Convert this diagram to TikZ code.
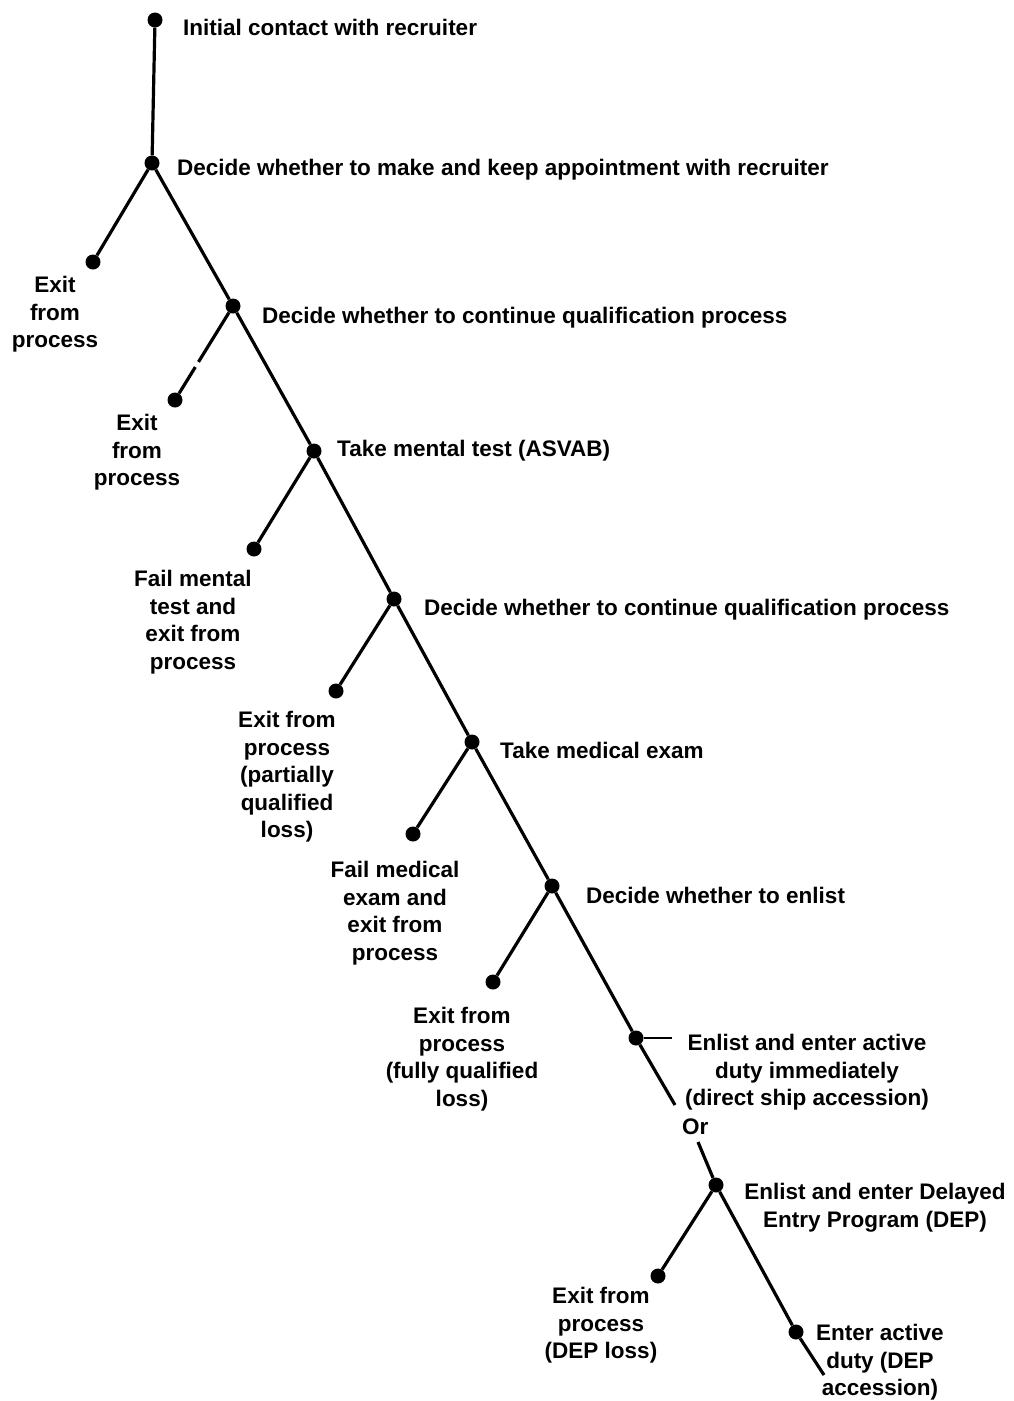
\documentclass[tikz,border=0pt]{standalone}
\usepackage{fontspec}
\setmainfont{Liberation Sans}
\begin{document}
\begin{tikzpicture}[x=1pt,y=-1pt,
  dot/.style={circle,fill=black,minimum size=15pt,inner sep=0pt},
  branch/.style={line width=3.2pt},
  rlabel/.style={anchor=west,inner sep=0pt,font=\bfseries\fontsize{22.5}{27.5}\selectfont},
  clabel/.style={anchor=north,inner sep=0pt,align=center,font=\bfseries\fontsize{22.5}{27.5}\selectfont}]
\useasboundingbox (0,0) rectangle (1013,1401);
% decision / event points
\node[dot] (A) at (155,20) {};
\node[dot] (B) at (152,163) {};
\node[dot] (E1) at (93,262) {};
\node[dot] (C) at (233,306) {};
\node[dot] (E2) at (175,400) {};
\node[dot] (D) at (314,451) {};
\node[dot] (E3) at (254,549) {};
\node[dot] (F) at (394,599) {};
\node[dot] (E4) at (336,691) {};
\node[dot] (G) at (472,742) {};
\node[dot] (E5) at (413,834) {};
\node[dot] (H) at (552,886) {};
\node[dot] (E6) at (493,982) {};
\node[dot] (I) at (636,1038) {};
\node[dot] (J) at (716,1185) {};
\node[dot] (E7) at (658,1276) {};
\node[dot] (K) at (796,1332) {};
\coordinate (Istub) at (672,1038);
\coordinate (Iend) at (675,1105);
\coordinate (Jstart) at (698,1142);
\coordinate (Kend) at (824,1375);
% connectors
\draw[branch] (A) -- (B);
\draw[branch] (B) -- (E1);
\draw[branch] (B) -- (C);
\draw[branch,dash pattern=on 58pt off 6pt on 100pt] (C) -- (E2);
\draw[branch] (C) -- (D);
\draw[branch] (D) -- (E3);
\draw[branch] (D) -- (F);
\draw[branch] (F) -- (E4);
\draw[branch] (F) -- (G);
\draw[branch] (G) -- (E5);
\draw[branch] (G) -- (H);
\draw[branch] (H) -- (E6);
\draw[branch] (H) -- (I);
\draw[line width=2pt] (I) -- (Istub);
\draw[branch] (I) -- (Iend);
\draw[branch] (Jstart) -- (J);
\draw[branch] (J) -- (E7);
\draw[branch] (J) -- (K);
\draw[branch] (K) -- (Kend);
% labels
\node[rlabel] (tA) at (183,27) {Initial contact with recruiter};
\node[rlabel] (tB) at (177,170) {Decide whether to make and keep appointment with recruiter};
\node[clabel] (tE1) at (55,276) {Exit\\from\\process};
\node[rlabel] (tC) at (262,318) {Decide whether to continue qualification process};
\node[clabel] (tE2) at (137,414) {Exit\\from\\process};
\node[rlabel] (tD) at (337,451) {Take mental test (ASVAB)};
\node[clabel] (tE3) at (193,570) {Fail mental\\test and\\exit from\\process};
\node[rlabel] (tF) at (424,610) {Decide whether to continue qualification process};
\node[clabel] (tE4) at (287,711) {Exit from\\process\\(partially\\qualified\\loss)};
\node[rlabel] (tG) at (500,750) {Take medical exam};
\node[clabel] (tE5) at (395,861) {Fail medical\\exam and\\exit from\\process};
\node[rlabel] (tH) at (586,895) {Decide whether to enlist};
\node[clabel] (tE6) at (462,1007) {Exit from\\process\\(fully qualified\\loss)};
\node[clabel] (tI) at (807,1034) {Enlist and enter active\\duty immediately\\(direct ship accession)};
\node[rlabel] (tOr) at (682,1127) {Or};
\node[clabel] (tJ) at (875,1183) {Enlist and enter Delayed\\Entry Program (DEP)};
\node[clabel] (tE7) at (601,1287) {Exit from\\process\\(DEP loss)};
\node[clabel] (tK) at (880,1324) {Enter active\\duty (DEP\\accession)};
\end{tikzpicture}
\end{document}
